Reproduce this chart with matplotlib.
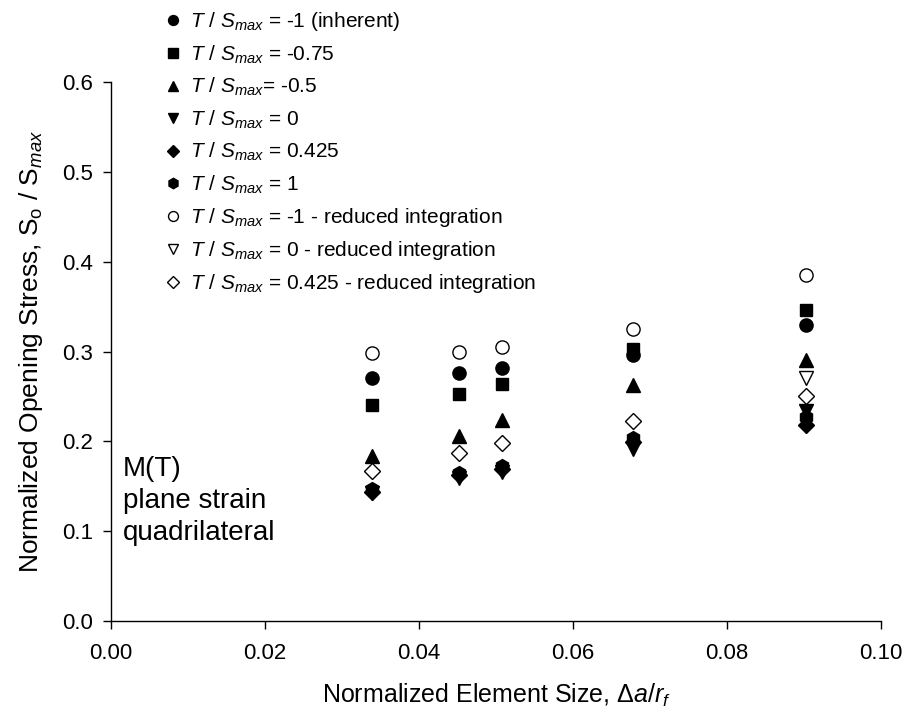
import numpy as np
import matplotlib
matplotlib.use("Agg")
import matplotlib.pyplot as plt

plt.rcParams['font.family'] = ['Liberation Sans', 'DejaVu Sans']
plt.rcParams['mathtext.fontset'] = 'custom'
plt.rcParams['mathtext.rm'] = 'Liberation Sans'
plt.rcParams['mathtext.it'] = 'Liberation Sans:italic'
plt.rcParams['mathtext.bf'] = 'Liberation Sans:bold'

# ---- data ----
element_size = [0.0339, 0.0452, 0.0508, 0.0678, 0.0903]
t_m1_inherent = [0.271, 0.276, 0.282, 0.296, 0.329]
t_m075 = [0.240, 0.253, 0.264, 0.303, 0.346]
t_m05 = [0.184, 0.206, 0.224, 0.263, 0.291]
t_0 = [0.142, 0.159, 0.166, 0.191, 0.234]
t_0425 = [0.144, 0.162, 0.169, 0.199, 0.218]
t_1 = [0.147, 0.165, 0.172, 0.204, 0.227]
t_m1_reduced = [0.298, 0.299, 0.305, 0.325, 0.385]
t_0_reduced = [np.nan, np.nan, np.nan, np.nan, 0.270]
t_0425_reduced = [0.167, 0.187, 0.198, 0.223, 0.251]

labels = [
    r"$T\ /\ S_{max}$ = -1 (inherent)",
    r"$T\ /\ S_{max}$ = -0.75",
    r"$T\ /\ S_{max}$= -0.5",
    r"$T\ /\ S_{max}$ = 0",
    r"$T\ /\ S_{max}$ = 0.425",
    r"$T\ /\ S_{max}$ = 1",
    r"$T\ /\ S_{max}$ = -1 - reduced integration",
    r"$T\ /\ S_{max}$ = 0 - reduced integration",
    r"$T\ /\ S_{max}$ = 0.425 - reduced integration",
]
series = [t_m1_inherent, t_m075, t_m05, t_0, t_0425, t_1,
          t_m1_reduced, t_0_reduced, t_0425_reduced]
markers = ['o', 's', '^', 'v', 'D', 'h', 'o', 'v', 'D']
filled = [True] * 6 + [False] * 3
sizes = [9.5, 9, 10, 10, 8, 10, 9.5, 10, 8.5]

fig = plt.figure(figsize=(9.04, 7.15), dpi=100)
ax = fig.add_axes([111/904, 1-621/715, 770/904, 539/715])

handles = []
for y, m, f, s, lab in zip(series, markers, filled, sizes, labels):
    h, = ax.plot(element_size, y, linestyle='none', marker=m, markersize=s,
                 markerfacecolor='black' if f else 'white',
                 markeredgecolor='black', markeredgewidth=1.0,
                 label=lab, zorder=3 if f else 4, clip_on=False)
    handles.append(h)

ax.set_xlim(0, 0.10)
ax.set_ylim(0, 0.6)
ax.set_xticks(np.arange(0, 0.101, 0.02))
ax.set_yticks(np.arange(0, 0.61, 0.1))
ax.set_xticklabels([f"{v:.2f}" for v in np.arange(0, 0.101, 0.02)])
ax.set_yticklabels([f"{v:.1f}" for v in np.arange(0, 0.61, 0.1)])
ax.spines['top'].set_visible(False)
ax.spines['right'].set_visible(False)
for sp in ['left', 'bottom']:
    ax.spines[sp].set_linewidth(1.0)
ax.tick_params(direction='out', length=6, width=1.0, labelsize=16)
ax.tick_params(axis='x', pad=10)
ax.tick_params(axis='y', pad=7)

ax.set_xlabel(r"Normalized Element Size, $\mathit{Δ}a/r_f$", fontsize=18, labelpad=13)
ax.set_ylabel(r"Normalized Opening Stress, $\mathrm{S_o}\ /\ \mathrm{S}_{max}$",
              fontsize=19, labelpad=12)

ax.text(0.0015, 0.134, "M(T)\nplane strain\nquadrilateral", fontsize=20,
        va='center', ha='left', linespacing=1.3)

fig.legend(handles=handles, labels=labels, loc='upper left',
           bbox_to_anchor=(156/904, 1 - 2/715), frameon=False,
           fontsize=15, markerscale=0.75, handlelength=0.8,
           handletextpad=0.45, labelspacing=0.49, borderaxespad=0)

fig.savefig("out.png", dpi=100)
